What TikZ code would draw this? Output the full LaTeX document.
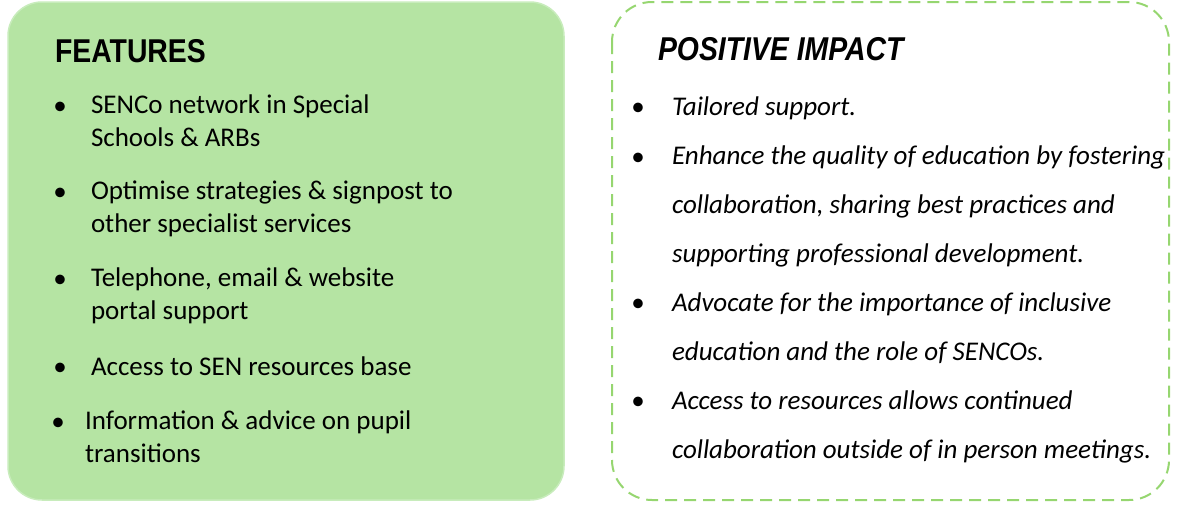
\documentclass[tikz,border=0pt]{standalone}
\usepackage{fontspec}
\setmainfont{Carlito}
\newfontfamily\headfont[FakeStretch=0.86]{Liberation Sans}

\begin{document}
\begin{tikzpicture}[x=1pt,y=-1pt,
	every node/.style={inner sep=0pt,outer sep=0pt},
	heading/.style={anchor=base west,font=\headfont\fontsize{33}{33}\selectfont\bfseries},
	featitem/.style={anchor=base west,align=left,font=\fontsize{27}{32.5}\selectfont},
	impitem/.style={anchor=base west,align=left,font=\fontsize{27}{49}\selectfont\itshape},
	dot/.style={anchor=base,font=\fontsize{27}{27}\selectfont}]
	\definecolor{featfill}{RGB}{181,228,163}  % caja de la izquierda
	\definecolor{featline}{RGB}{200,236,188}
	\definecolor{impline}{RGB}{150,214,112}
	\useasboundingbox (0,0) rectangle (1179,509);

	% cajas
	\filldraw[fill=featfill,draw=featline,line width=1.5pt,rounded corners=34pt]
		(8,2) rectangle (564,500);
	\draw[impline,line width=2pt,dash pattern=on 12pt off 7pt,rounded corners=40pt]
		(612,2) rectangle (1169,500);

	% titulos
	\node[heading] (featTitle) at (55,62) {FEATURES};
	\node[heading,font=\headfont\fontsize{33}{33}\selectfont\bfseries\itshape] (impTitle) at (658,60) {POSITIVE IMPACT};

	% lista izquierda (el ancla base es la de la ultima linea!)
	\foreach \n/\bx/\tx/\by/\ly/\txt in {
		1/60/91/114/146/{SENCo network in Special\\Schools \& ARBs},
		2/60/91/200/232/{Optimise strategies \& signpost to\\other specialist services},
		3/60/91/287/319/{Telephone, email \& website\\portal support},
		4/60/91/375/375/{Access to SEN resources base},
		5/58/85/430/462/{Information \& advice on pupil\\transitions}}
	{
		\node[dot] (featDot\n) at (\bx,\by) {•};
		\node[featitem] (feat\n) at (\tx,\ly) {\txt};
	}

	% lista derecha
	\foreach \n/\by/\ly/\txt in {
		1/115/115/{Tailored support.},
		2/165/262/{Enhance the quality of education by fostering\\collaboration, sharing best practices and\\supporting professional development.},
		3/311/360/{Advocate for the importance of inclusive\\education and the role of SENCOs.},
		4/409/458/{Access to resources allows continued\\collaboration outside of in person meetings.}}
	{
		\node[dot] (impDot\n) at (638,\by) {•};
		\node[impitem] (imp\n) at (672,\ly) {\txt};
	}
\end{tikzpicture}
\end{document}
